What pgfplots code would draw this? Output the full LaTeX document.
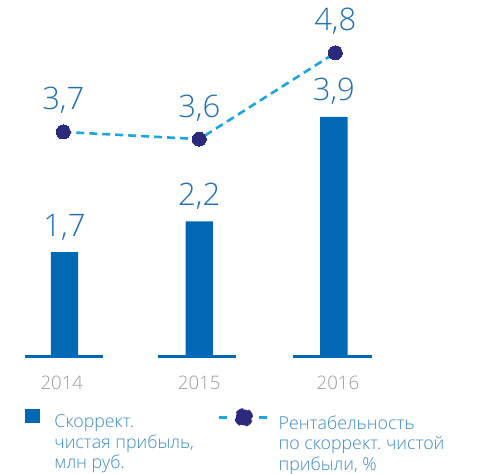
\documentclass[border=0pt]{standalone}
\usepackage{pgfplots}
\pgfplotsset{compat=1.18}
\usepackage{fontspec}
\setmainfont{Open Sans}[UprightFont={* Light}]
\frenchspacing

\definecolor{barblue}{HTML}{0068B4}
\definecolor{numblue}{HTML}{1E6FB8}
\definecolor{legblue}{HTML}{3C8BCB}
\definecolor{cyanline}{HTML}{1BA6E2}
\definecolor{navy}{HTML}{2C2A7C}
\definecolor{yeargray}{HTML}{9B9B9B}

\pgfplotsset{
  base/.style={
    width=490bp, height=474bp, scale only axis, hide axis, clip=false,
    at={(0,0)}, anchor=south west,
    /pgf/number format/use comma,
    /pgf/number format/fixed,
    /pgf/number format/fixed zerofill,
    /pgf/number format/precision=1,
    /pgf/number format/assume math mode=true,
    legend style={draw=none, fill=none, inner sep=0pt, outer sep=0pt,
      nodes={inner sep=0pt, outer sep=0pt, text=legblue},
      anchor=north west},
  },
}

\begin{document}
\begin{tikzpicture}
\useasboundingbox (0,0) rectangle (490bp,474bp);

% bars: net profit
\begin{axis}[base,
  xmin=-0.479, xmax=3.159, ymin=-1.907, ymax=5.800,
  legend style={at={(axis description cs:0.051,0.138)}, column sep=14bp},
]
\addplot[ybar, bar width=0.203, fill=barblue, draw=none,
  nodes near coords,
  every node near coord/.append style={anchor=base, yshift=16bp, text=numblue,
    font=\fontsize{31bp}{37bp}\selectfont},
  legend image code/.code={\pgfsetbaseline{0pt}\fill[barblue] (0bp,-0.5bp) rectangle (15.5bp,13.5bp);},
] coordinates {(0,1.7) (1,2.2) (2,3.9)};
\addlegendentry{\parbox[t]{6cm}{\fontsize{17.8bp}{20.4bp}\selectfont Скоррект.\\чистая прибыль,\\млн руб.}}

\addplot[barblue, line width=2.5bp, unbounded coords=jump, forget plot]
  coordinates {(-0.293,0) (0.286,0) (0.5,nan) (0.694,0) (1.273,0) (1.5,nan) (1.696,0) (2.283,0)};

\node[anchor=base, text=yeargray, font=\fontsize{18.6bp}{22bp}\selectfont] at (axis cs:-0.02,-0.541) {2014};
\node[anchor=base, text=yeargray, font=\fontsize{18.6bp}{22bp}\selectfont] at (axis cs:1.0,-0.541) {2015};
\node[anchor=base, text=yeargray, font=\fontsize{18.6bp}{22bp}\selectfont] at (axis cs:2.03,-0.541) {2016};
\end{axis}

% line: profitability
\begin{axis}[base,
  xmin=-0.4654, xmax=3.1375, ymin=-1.057, ymax=5.535,
  legend style={at={(axis description cs:0.4449,0.139)}, column sep=9bp},
]
\addplot[cyanline, line width=2.6bp, dash pattern=on 8bp off 5bp,
  mark=*, mark size=7bp, mark options={solid, fill=navy, draw=navy, line width=0pt},
  nodes near coords,
  every node near coord/.append style={anchor=base, yshift=22bp, text=numblue,
    font=\fontsize{31bp}{37bp}\selectfont},
  legend image code/.code={\pgfsetbaseline{0pt}
    \draw[cyanline, line width=2.6bp] (0bp,6bp) -- (9bp,6bp);
    \draw[cyanline, line width=2.6bp] (40bp,6bp) -- (49bp,6bp);
    \fill[navy] (24.5bp,6bp) circle (8bp);},
] coordinates {(0,3.7) (1,3.6) (2,4.8)};
\addlegendentry{\parbox[t]{7cm}{\fontsize{17.8bp}{20.4bp}\selectfont Рентабельность\\по скоррект. чистой\\прибыли, \%}}
\end{axis}
\end{tikzpicture}
\end{document}
